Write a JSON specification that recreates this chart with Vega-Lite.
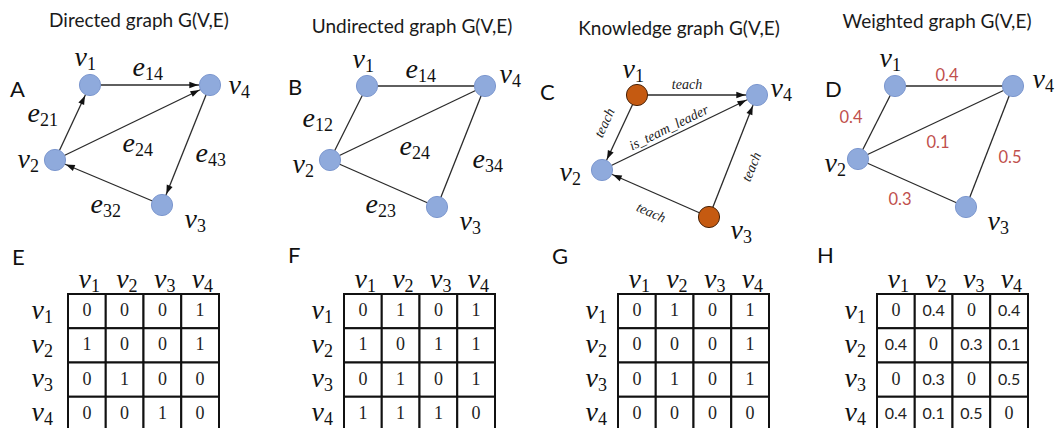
{
  "$schema": "https://vega.github.io/schema/vega-lite/v6.json",
  "width": 1058,
  "height": 428,
  "autosize": "none",
  "padding": 0,
  "background": "white",
  "config": {"view": {"stroke": null}},
  "datasets": {
    "edges": [
      {"x1": 90, "y1": 85, "x2": 210, "y2": 85},
      {"x1": 55, "y1": 160, "x2": 90, "y2": 85},
      {"x1": 55, "y1": 160, "x2": 210, "y2": 85},
      {"x1": 210, "y1": 85, "x2": 162, "y2": 205},
      {"x1": 162, "y1": 205, "x2": 55, "y2": 160},
      {"x1": 367, "y1": 86, "x2": 485, "y2": 86},
      {"x1": 330, "y1": 160, "x2": 367, "y2": 86},
      {"x1": 330, "y1": 160, "x2": 485, "y2": 86},
      {"x1": 485, "y1": 86, "x2": 437, "y2": 207},
      {"x1": 330, "y1": 160, "x2": 437, "y2": 207},
      {"x1": 637, "y1": 95, "x2": 757, "y2": 95},
      {"x1": 637, "y1": 95, "x2": 602, "y2": 170},
      {"x1": 602, "y1": 170, "x2": 757, "y2": 95},
      {"x1": 709, "y1": 217, "x2": 757, "y2": 95},
      {"x1": 709, "y1": 217, "x2": 602, "y2": 170},
      {"x1": 895, "y1": 86, "x2": 1013, "y2": 86},
      {"x1": 858, "y1": 159, "x2": 895, "y2": 86},
      {"x1": 858, "y1": 159, "x2": 1013, "y2": 86},
      {"x1": 1013, "y1": 86, "x2": 966, "y2": 207},
      {"x1": 858, "y1": 159, "x2": 966, "y2": 207}
    ],
    "arrows": [
      {"x": 193, "y": 85, "a": 90},
      {"x": 82.8, "y": 100.4, "a": 25},
      {"x": 194.7, "y": 92.4, "a": 64.2},
      {"x": 168.3, "y": 189.2, "a": -158.2},
      {"x": 70.7, "y": 166.6, "a": -67.2},
      {"x": 740, "y": 95, "a": 90},
      {"x": 609.2, "y": 154.6, "a": -155},
      {"x": 741.7, "y": 102.4, "a": 64.2},
      {"x": 750.8, "y": 110.8, "a": 21.5},
      {"x": 617.6, "y": 176.8, "a": -66.3}
    ],
    "nodes": [
      {"x": 90, "y": 85, "k": "plain"}, {"x": 210, "y": 85, "k": "plain"}, {"x": 55, "y": 160, "k": "plain"}, {"x": 162, "y": 205, "k": "plain"},
      {"x": 367, "y": 86, "k": "plain"}, {"x": 485, "y": 86, "k": "plain"}, {"x": 330, "y": 160, "k": "plain"}, {"x": 437, "y": 207, "k": "plain"},
      {"x": 637, "y": 95, "k": "person"}, {"x": 757, "y": 95, "k": "plain"}, {"x": 602, "y": 170, "k": "plain"}, {"x": 709, "y": 217, "k": "person"},
      {"x": 895, "y": 86, "k": "plain"}, {"x": 1013, "y": 86, "k": "plain"}, {"x": 858, "y": 159, "k": "plain"}, {"x": 966, "y": 207, "k": "plain"}
    ],
    "math": [
      {"x": 87, "y": 66, "m": "v", "s": "1"}, {"x": 241, "y": 94, "m": "v", "s": "4"}, {"x": 30, "y": 168, "m": "v", "s": "2"}, {"x": 197, "y": 228, "m": "v", "s": "3"},
      {"x": 145, "y": 76, "m": "e", "s": "14"}, {"x": 40, "y": 122, "m": "e", "s": "21"}, {"x": 135, "y": 152, "m": "e", "s": "24"}, {"x": 208, "y": 162, "m": "e", "s": "43"}, {"x": 103, "y": 213, "m": "e", "s": "32"},
      {"x": 365, "y": 68, "m": "v", "s": "1"}, {"x": 512, "y": 83, "m": "v", "s": "4"}, {"x": 305, "y": 173, "m": "v", "s": "2"}, {"x": 472, "y": 230, "m": "v", "s": "3"},
      {"x": 418, "y": 78, "m": "e", "s": "14"}, {"x": 315, "y": 127, "m": "e", "s": "12"}, {"x": 412, "y": 155, "m": "e", "s": "24"}, {"x": 485, "y": 168, "m": "e", "s": "34"}, {"x": 378, "y": 213, "m": "e", "s": "23"},
      {"x": 635, "y": 78, "m": "v", "s": "1"}, {"x": 783, "y": 97, "m": "v", "s": "4"}, {"x": 572, "y": 181, "m": "v", "s": "2"}, {"x": 743, "y": 239, "m": "v", "s": "3"},
      {"x": 892, "y": 67, "m": "v", "s": "1"}, {"x": 1045, "y": 88, "m": "v", "s": "4"}, {"x": 837, "y": 172, "m": "v", "s": "2"}, {"x": 1000, "y": 230, "m": "v", "s": "3"},
      {"x": 91, "y": 288, "m": "v", "s": "1"}, {"x": 128.6, "y": 288, "m": "v", "s": "2"}, {"x": 166.4, "y": 288, "m": "v", "s": "3"}, {"x": 204.1, "y": 288, "m": "v", "s": "4"},
      {"x": 44, "y": 319, "m": "v", "s": "1"}, {"x": 44, "y": 353, "m": "v", "s": "2"}, {"x": 44, "y": 387, "m": "v", "s": "3"}, {"x": 44, "y": 421, "m": "v", "s": "4"},
      {"x": 366.9, "y": 288, "m": "v", "s": "1"}, {"x": 404.6, "y": 288, "m": "v", "s": "2"}, {"x": 442.4, "y": 288, "m": "v", "s": "3"}, {"x": 480.1, "y": 288, "m": "v", "s": "4"},
      {"x": 324, "y": 319, "m": "v", "s": "1"}, {"x": 324, "y": 353, "m": "v", "s": "2"}, {"x": 324, "y": 387, "m": "v", "s": "3"}, {"x": 324, "y": 421, "m": "v", "s": "4"},
      {"x": 640.9, "y": 288, "m": "v", "s": "1"}, {"x": 678.6, "y": 288, "m": "v", "s": "2"}, {"x": 716.4, "y": 288, "m": "v", "s": "3"}, {"x": 754.1, "y": 288, "m": "v", "s": "4"},
      {"x": 598, "y": 319, "m": "v", "s": "1"}, {"x": 598, "y": 353, "m": "v", "s": "2"}, {"x": 598, "y": 387, "m": "v", "s": "3"}, {"x": 598, "y": 421, "m": "v", "s": "4"},
      {"x": 899.9, "y": 288, "m": "v", "s": "1"}, {"x": 937.6, "y": 288, "m": "v", "s": "2"}, {"x": 975.4, "y": 288, "m": "v", "s": "3"}, {"x": 1013.1, "y": 288, "m": "v", "s": "4"},
      {"x": 857, "y": 319, "m": "v", "s": "1"}, {"x": 857, "y": 353, "m": "v", "s": "2"}, {"x": 857, "y": 387, "m": "v", "s": "3"}, {"x": 857, "y": 421, "m": "v", "s": "4"}
    ],
    "titles": [
      {"x": 139, "y": 27, "t": "Directed graph G(V,E)"},
      {"x": 412, "y": 33, "t": "Undirected graph G(V,E)"},
      {"x": 679, "y": 35, "t": "Knowledge graph G(V,E)"},
      {"x": 937, "y": 28, "t": "Weighted graph G(V,E)"}
    ],
    "letters": [
      {"x": 10, "y": 97, "t": "A"}, {"x": 288, "y": 95, "t": "B"}, {"x": 540, "y": 100, "t": "C"}, {"x": 825, "y": 97, "t": "D"},
      {"x": 12, "y": 265, "t": "E"}, {"x": 288, "y": 263, "t": "F"}, {"x": 552, "y": 264, "t": "G"}, {"x": 817, "y": 263, "t": "H"}
    ],
    "rel": [
      {"x": 687, "y": 85, "a": 0, "t": "teach"},
      {"x": 605, "y": 123, "a": -65, "t": "teach"},
      {"x": 669, "y": 128, "a": -26, "t": "is_team_leader"},
      {"x": 752, "y": 167, "a": -68, "t": "teach"},
      {"x": 651, "y": 213, "a": 24, "t": "teach"}
    ],
    "weights": [
      {"x": 947, "y": 76, "t": "0.4"},
      {"x": 851, "y": 118, "t": "0.4"},
      {"x": 938, "y": 143, "t": "0.1"},
      {"x": 1010, "y": 158, "t": "0.5"},
      {"x": 900, "y": 200, "t": "0.3"}
    ],
    "cells": [
      {"m": "E", "x0": 68, "x1": 105.75, "y0": 294, "y1": 328.25, "cx": 86.9, "cy": 311.1, "t": "0"},
      {"m": "E", "x0": 105.75, "x1": 143.5, "y0": 294, "y1": 328.25, "cx": 124.6, "cy": 311.1, "t": "0"},
      {"m": "E", "x0": 143.5, "x1": 181.25, "y0": 294, "y1": 328.25, "cx": 162.4, "cy": 311.1, "t": "0"},
      {"m": "E", "x0": 181.25, "x1": 219, "y0": 294, "y1": 328.25, "cx": 200.1, "cy": 311.1, "t": "1"},
      {"m": "E", "x0": 68, "x1": 105.75, "y0": 328.25, "y1": 362.5, "cx": 86.9, "cy": 345.4, "t": "1"},
      {"m": "E", "x0": 105.75, "x1": 143.5, "y0": 328.25, "y1": 362.5, "cx": 124.6, "cy": 345.4, "t": "0"},
      {"m": "E", "x0": 143.5, "x1": 181.25, "y0": 328.25, "y1": 362.5, "cx": 162.4, "cy": 345.4, "t": "0"},
      {"m": "E", "x0": 181.25, "x1": 219, "y0": 328.25, "y1": 362.5, "cx": 200.1, "cy": 345.4, "t": "1"},
      {"m": "E", "x0": 68, "x1": 105.75, "y0": 362.5, "y1": 396.75, "cx": 86.9, "cy": 379.6, "t": "0"},
      {"m": "E", "x0": 105.75, "x1": 143.5, "y0": 362.5, "y1": 396.75, "cx": 124.6, "cy": 379.6, "t": "1"},
      {"m": "E", "x0": 143.5, "x1": 181.25, "y0": 362.5, "y1": 396.75, "cx": 162.4, "cy": 379.6, "t": "0"},
      {"m": "E", "x0": 181.25, "x1": 219, "y0": 362.5, "y1": 396.75, "cx": 200.1, "cy": 379.6, "t": "0"},
      {"m": "E", "x0": 68, "x1": 105.75, "y0": 396.75, "y1": 431, "cx": 86.9, "cy": 413.9, "t": "0"},
      {"m": "E", "x0": 105.75, "x1": 143.5, "y0": 396.75, "y1": 431, "cx": 124.6, "cy": 413.9, "t": "0"},
      {"m": "E", "x0": 143.5, "x1": 181.25, "y0": 396.75, "y1": 431, "cx": 162.4, "cy": 413.9, "t": "1"},
      {"m": "E", "x0": 181.25, "x1": 219, "y0": 396.75, "y1": 431, "cx": 200.1, "cy": 413.9, "t": "0"},
      {"m": "F", "x0": 344, "x1": 381.75, "y0": 294, "y1": 328.25, "cx": 362.9, "cy": 311.1, "t": "0"},
      {"m": "F", "x0": 381.75, "x1": 419.5, "y0": 294, "y1": 328.25, "cx": 400.6, "cy": 311.1, "t": "1"},
      {"m": "F", "x0": 419.5, "x1": 457.25, "y0": 294, "y1": 328.25, "cx": 438.4, "cy": 311.1, "t": "0"},
      {"m": "F", "x0": 457.25, "x1": 495, "y0": 294, "y1": 328.25, "cx": 476.1, "cy": 311.1, "t": "1"},
      {"m": "F", "x0": 344, "x1": 381.75, "y0": 328.25, "y1": 362.5, "cx": 362.9, "cy": 345.4, "t": "1"},
      {"m": "F", "x0": 381.75, "x1": 419.5, "y0": 328.25, "y1": 362.5, "cx": 400.6, "cy": 345.4, "t": "0"},
      {"m": "F", "x0": 419.5, "x1": 457.25, "y0": 328.25, "y1": 362.5, "cx": 438.4, "cy": 345.4, "t": "1"},
      {"m": "F", "x0": 457.25, "x1": 495, "y0": 328.25, "y1": 362.5, "cx": 476.1, "cy": 345.4, "t": "1"},
      {"m": "F", "x0": 344, "x1": 381.75, "y0": 362.5, "y1": 396.75, "cx": 362.9, "cy": 379.6, "t": "0"},
      {"m": "F", "x0": 381.75, "x1": 419.5, "y0": 362.5, "y1": 396.75, "cx": 400.6, "cy": 379.6, "t": "1"},
      {"m": "F", "x0": 419.5, "x1": 457.25, "y0": 362.5, "y1": 396.75, "cx": 438.4, "cy": 379.6, "t": "0"},
      {"m": "F", "x0": 457.25, "x1": 495, "y0": 362.5, "y1": 396.75, "cx": 476.1, "cy": 379.6, "t": "1"},
      {"m": "F", "x0": 344, "x1": 381.75, "y0": 396.75, "y1": 431, "cx": 362.9, "cy": 413.9, "t": "1"},
      {"m": "F", "x0": 381.75, "x1": 419.5, "y0": 396.75, "y1": 431, "cx": 400.6, "cy": 413.9, "t": "1"},
      {"m": "F", "x0": 419.5, "x1": 457.25, "y0": 396.75, "y1": 431, "cx": 438.4, "cy": 413.9, "t": "1"},
      {"m": "F", "x0": 457.25, "x1": 495, "y0": 396.75, "y1": 431, "cx": 476.1, "cy": 413.9, "t": "0"},
      {"m": "G", "x0": 618, "x1": 655.75, "y0": 294, "y1": 328.25, "cx": 636.9, "cy": 311.1, "t": "0"},
      {"m": "G", "x0": 655.75, "x1": 693.5, "y0": 294, "y1": 328.25, "cx": 674.6, "cy": 311.1, "t": "1"},
      {"m": "G", "x0": 693.5, "x1": 731.25, "y0": 294, "y1": 328.25, "cx": 712.4, "cy": 311.1, "t": "0"},
      {"m": "G", "x0": 731.25, "x1": 769, "y0": 294, "y1": 328.25, "cx": 750.1, "cy": 311.1, "t": "1"},
      {"m": "G", "x0": 618, "x1": 655.75, "y0": 328.25, "y1": 362.5, "cx": 636.9, "cy": 345.4, "t": "0"},
      {"m": "G", "x0": 655.75, "x1": 693.5, "y0": 328.25, "y1": 362.5, "cx": 674.6, "cy": 345.4, "t": "0"},
      {"m": "G", "x0": 693.5, "x1": 731.25, "y0": 328.25, "y1": 362.5, "cx": 712.4, "cy": 345.4, "t": "0"},
      {"m": "G", "x0": 731.25, "x1": 769, "y0": 328.25, "y1": 362.5, "cx": 750.1, "cy": 345.4, "t": "1"},
      {"m": "G", "x0": 618, "x1": 655.75, "y0": 362.5, "y1": 396.75, "cx": 636.9, "cy": 379.6, "t": "0"},
      {"m": "G", "x0": 655.75, "x1": 693.5, "y0": 362.5, "y1": 396.75, "cx": 674.6, "cy": 379.6, "t": "1"},
      {"m": "G", "x0": 693.5, "x1": 731.25, "y0": 362.5, "y1": 396.75, "cx": 712.4, "cy": 379.6, "t": "0"},
      {"m": "G", "x0": 731.25, "x1": 769, "y0": 362.5, "y1": 396.75, "cx": 750.1, "cy": 379.6, "t": "1"},
      {"m": "G", "x0": 618, "x1": 655.75, "y0": 396.75, "y1": 431, "cx": 636.9, "cy": 413.9, "t": "0"},
      {"m": "G", "x0": 655.75, "x1": 693.5, "y0": 396.75, "y1": 431, "cx": 674.6, "cy": 413.9, "t": "0"},
      {"m": "G", "x0": 693.5, "x1": 731.25, "y0": 396.75, "y1": 431, "cx": 712.4, "cy": 413.9, "t": "0"},
      {"m": "G", "x0": 731.25, "x1": 769, "y0": 396.75, "y1": 431, "cx": 750.1, "cy": 413.9, "t": "0"},
      {"m": "H", "x0": 877, "x1": 914.75, "y0": 294, "y1": 328.25, "cx": 895.9, "cy": 311.1, "t": "0"},
      {"m": "H", "x0": 914.75, "x1": 952.5, "y0": 294, "y1": 328.25, "cx": 933.6, "cy": 311.1, "t": "0.4"},
      {"m": "H", "x0": 952.5, "x1": 990.25, "y0": 294, "y1": 328.25, "cx": 971.4, "cy": 311.1, "t": "0"},
      {"m": "H", "x0": 990.25, "x1": 1028, "y0": 294, "y1": 328.25, "cx": 1009.1, "cy": 311.1, "t": "0.4"},
      {"m": "H", "x0": 877, "x1": 914.75, "y0": 328.25, "y1": 362.5, "cx": 895.9, "cy": 345.4, "t": "0.4"},
      {"m": "H", "x0": 914.75, "x1": 952.5, "y0": 328.25, "y1": 362.5, "cx": 933.6, "cy": 345.4, "t": "0"},
      {"m": "H", "x0": 952.5, "x1": 990.25, "y0": 328.25, "y1": 362.5, "cx": 971.4, "cy": 345.4, "t": "0.3"},
      {"m": "H", "x0": 990.25, "x1": 1028, "y0": 328.25, "y1": 362.5, "cx": 1009.1, "cy": 345.4, "t": "0.1"},
      {"m": "H", "x0": 877, "x1": 914.75, "y0": 362.5, "y1": 396.75, "cx": 895.9, "cy": 379.6, "t": "0"},
      {"m": "H", "x0": 914.75, "x1": 952.5, "y0": 362.5, "y1": 396.75, "cx": 933.6, "cy": 379.6, "t": "0.3"},
      {"m": "H", "x0": 952.5, "x1": 990.25, "y0": 362.5, "y1": 396.75, "cx": 971.4, "cy": 379.6, "t": "0"},
      {"m": "H", "x0": 990.25, "x1": 1028, "y0": 362.5, "y1": 396.75, "cx": 1009.1, "cy": 379.6, "t": "0.5"},
      {"m": "H", "x0": 877, "x1": 914.75, "y0": 396.75, "y1": 431, "cx": 895.9, "cy": 413.9, "t": "0.4"},
      {"m": "H", "x0": 914.75, "x1": 952.5, "y0": 396.75, "y1": 431, "cx": 933.6, "cy": 413.9, "t": "0.1"},
      {"m": "H", "x0": 952.5, "x1": 990.25, "y0": 396.75, "y1": 431, "cx": 971.4, "cy": 413.9, "t": "0.5"},
      {"m": "H", "x0": 990.25, "x1": 1028, "y0": 396.75, "y1": 431, "cx": 1009.1, "cy": 413.9, "t": "0"}
    ]
  },
  "layer": [
    {
      "data": {"name": "edges"},
      "mark": {"type": "rule", "color": "#2a2a2a", "strokeWidth": 1.3},
      "encoding": {
        "x": {"field": "x1", "type": "quantitative", "scale": {"domain": [0, 1058], "nice": false, "zero": false}, "axis": null},
        "y": {"field": "y1", "type": "quantitative", "scale": {"domain": [0, 428], "nice": false, "zero": false, "reverse": true}, "axis": null},
        "x2": {"field": "x2"},
        "y2": {"field": "y2"}
      }
    },
    {
      "data": {"name": "arrows"},
      "mark": {"type": "point", "shape": "M0,-1L0.6,0.7L-0.6,0.7Z", "filled": true, "color": "#111111", "size": 110, "opacity": 1},
      "encoding": {
        "x": {"field": "x", "type": "quantitative", "scale": {"domain": [0, 1058], "nice": false, "zero": false}, "axis": null},
        "y": {"field": "y", "type": "quantitative", "scale": {"domain": [0, 428], "nice": false, "zero": false, "reverse": true}, "axis": null},
        "angle": {"field": "a", "type": "quantitative", "scale": null}
      }
    },
    {
      "data": {"name": "nodes"},
      "mark": {"type": "point", "shape": "circle", "filled": true, "size": 450, "opacity": 1, "strokeWidth": 1},
      "encoding": {
        "x": {"field": "x", "type": "quantitative", "scale": {"domain": [0, 1058], "nice": false, "zero": false}, "axis": null},
        "y": {"field": "y", "type": "quantitative", "scale": {"domain": [0, 428], "nice": false, "zero": false, "reverse": true}, "axis": null},
        "fill": {"field": "k", "type": "nominal", "scale": {"domain": ["plain", "person"], "range": ["#8faadc", "#c55a11"]}, "legend": null},
        "stroke": {"field": "k", "type": "nominal", "scale": {"domain": ["plain", "person"], "range": ["#7d98cf", "#4a2308"]}, "legend": null}
      }
    },
    {
      "data": {"name": "math"},
      "mark": {"type": "text", "font": "Liberation Serif", "fontStyle": "italic", "fontSize": 28, "align": "right", "baseline": "alphabetic", "color": "#111111"},
      "encoding": {
        "x": {"field": "x", "type": "quantitative", "scale": {"domain": [0, 1058], "nice": false, "zero": false}, "axis": null},
        "y": {"field": "y", "type": "quantitative", "scale": {"domain": [0, 428], "nice": false, "zero": false, "reverse": true}, "axis": null},
        "text": {"field": "m"}
      }
    },
    {
      "data": {"name": "math"},
      "mark": {"type": "text", "font": "Liberation Serif", "fontSize": 18, "align": "left", "baseline": "alphabetic", "dy": 4, "dx": 0, "color": "#111111"},
      "encoding": {
        "x": {"field": "x", "type": "quantitative", "scale": {"domain": [0, 1058], "nice": false, "zero": false}, "axis": null},
        "y": {"field": "y", "type": "quantitative", "scale": {"domain": [0, 428], "nice": false, "zero": false, "reverse": true}, "axis": null},
        "text": {"field": "s"}
      }
    },
    {
      "data": {"name": "titles"},
      "mark": {"type": "text", "font": "Lato", "fontSize": 19, "align": "center", "baseline": "alphabetic", "color": "#1a1a1a"},
      "encoding": {
        "x": {"field": "x", "type": "quantitative", "scale": {"domain": [0, 1058], "nice": false, "zero": false}, "axis": null},
        "y": {"field": "y", "type": "quantitative", "scale": {"domain": [0, 428], "nice": false, "zero": false, "reverse": true}, "axis": null},
        "text": {"field": "t"}
      }
    },
    {
      "data": {"name": "letters"},
      "mark": {"type": "text", "font": "Lato", "fontSize": 22, "align": "left", "baseline": "alphabetic", "color": "#111111"},
      "encoding": {
        "x": {"field": "x", "type": "quantitative", "scale": {"domain": [0, 1058], "nice": false, "zero": false}, "axis": null},
        "y": {"field": "y", "type": "quantitative", "scale": {"domain": [0, 428], "nice": false, "zero": false, "reverse": true}, "axis": null},
        "text": {"field": "t"}
      }
    },
    {
      "data": {"name": "rel"},
      "mark": {"type": "text", "font": "Liberation Serif", "fontStyle": "italic", "fontSize": 14, "align": "center", "baseline": "middle", "color": "#222222"},
      "encoding": {
        "x": {"field": "x", "type": "quantitative", "scale": {"domain": [0, 1058], "nice": false, "zero": false}, "axis": null},
        "y": {"field": "y", "type": "quantitative", "scale": {"domain": [0, 428], "nice": false, "zero": false, "reverse": true}, "axis": null},
        "angle": {"field": "a", "type": "quantitative", "scale": null},
        "text": {"field": "t"}
      }
    },
    {
      "data": {"name": "weights"},
      "mark": {"type": "text", "font": "Lato", "fontSize": 16.5, "align": "center", "baseline": "middle", "color": "#c0504d"},
      "encoding": {
        "x": {"field": "x", "type": "quantitative", "scale": {"domain": [0, 1058], "nice": false, "zero": false}, "axis": null},
        "y": {"field": "y", "type": "quantitative", "scale": {"domain": [0, 428], "nice": false, "zero": false, "reverse": true}, "axis": null},
        "text": {"field": "t"}
      }
    },
    {
      "data": {"name": "cells"},
      "mark": {"type": "rect", "fill": "white", "stroke": "#111111", "strokeWidth": 2},
      "encoding": {
        "x": {"field": "x0", "type": "quantitative", "scale": {"domain": [0, 1058], "nice": false, "zero": false}, "axis": null},
        "y": {"field": "y0", "type": "quantitative", "scale": {"domain": [0, 428], "nice": false, "zero": false, "reverse": true}, "axis": null},
        "x2": {"field": "x1"},
        "y2": {"field": "y1"}
      }
    },
    {
      "data": {"name": "cells"},
      "transform": [{"filter": "datum.m != 'H' || datum.t == '0'"}],
      "mark": {"type": "text", "font": "Liberation Serif", "fontSize": 18, "align": "center", "baseline": "middle", "color": "#222222"},
      "encoding": {
        "x": {"field": "cx", "type": "quantitative", "scale": {"domain": [0, 1058], "nice": false, "zero": false}, "axis": null},
        "y": {"field": "cy", "type": "quantitative", "scale": {"domain": [0, 428], "nice": false, "zero": false, "reverse": true}, "axis": null},
        "text": {"field": "t"}
      }
    },
    {
      "data": {"name": "cells"},
      "transform": [{"filter": "datum.m == 'H' && datum.t != '0'"}],
      "mark": {"type": "text", "font": "Lato", "fontSize": 16, "align": "center", "baseline": "middle", "color": "#222222"},
      "encoding": {
        "x": {"field": "cx", "type": "quantitative", "scale": {"domain": [0, 1058], "nice": false, "zero": false}, "axis": null},
        "y": {"field": "cy", "type": "quantitative", "scale": {"domain": [0, 428], "nice": false, "zero": false, "reverse": true}, "axis": null},
        "text": {"field": "t"}
      }
    }
  ]
}
